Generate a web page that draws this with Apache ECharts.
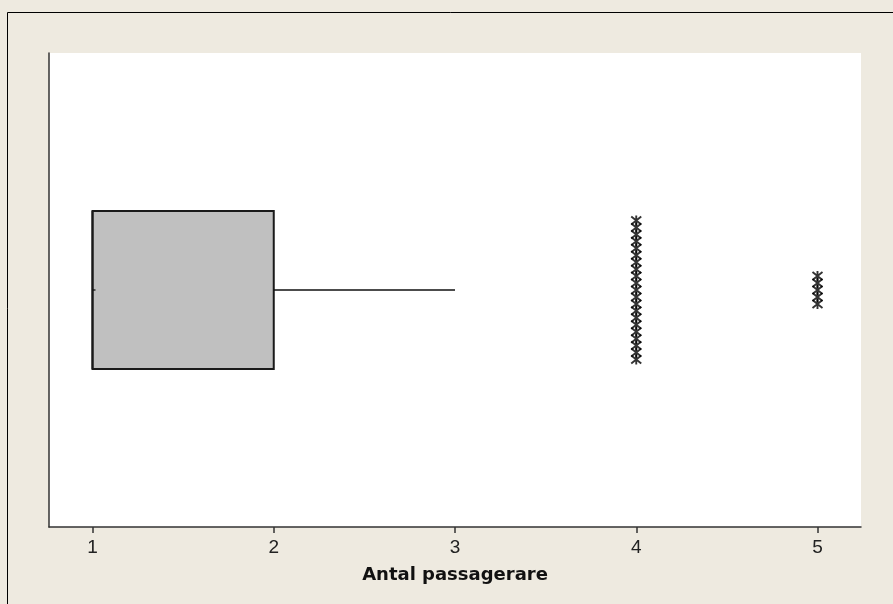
<!DOCTYPE html>
<html>
<head>
<meta charset="utf-8">
<script src="https://cdn.jsdelivr.net/npm/echarts@6/dist/echarts.min.js"></script>
<style>
  html, body { margin: 0; padding: 0; background: #EEEAE0; }
  #chart { width: 893px; height: 604px; }
</style>
</head>
<body>
<div id="chart"></div>
<script>
// Five-number summary of passenger counts: min, Q1, median, Q3, upper whisker
const boxStats = [1, 1, 1, 2, 3];
// Outlying values and how many observations fall on each
const outlierValues = [4, 5];
const outlierCounts = [21, 5];
const xTicks = [1, 2, 3, 4, 5];
const axisTitle = 'Antal passagerare';

// Identical outliers are stacked vertically around the box centre line
const stackStep = 0.088;
const outlierPoints = [];
outlierValues.forEach(function (v, i) {
  const n = outlierCounts[i];
  for (let k = 0; k < n; k++) {
    outlierPoints.push([v, (k - (n - 1) / 2) * stackStep]);
  }
});

const chart = echarts.init(document.getElementById('chart'), null, { renderer: 'canvas' });

// six-armed asterisk: an X crossed by a vertical stroke
const asterisk = 'path://M0,1L10,9M10,1L0,9M5,0L5,10';

chart.setOption({
  backgroundColor: '#EEEAE0',
  animation: false,
  graphic: [{
    type: 'rect',
    shape: { x: 7.5, y: 12.5, width: 1000, height: 1000 },
    style: { fill: 'none', stroke: '#000', lineWidth: 1 },
    silent: true, z: 0
  }, {
    type: 'rect',
    shape: { x: 49, y: 53, width: 812, height: 474 },
    style: { fill: '#FFFFFF' },
    silent: true, z: 0
  }],
  grid: { left: 49, top: 53, right: 32, bottom: 77, containLabel: false },
  xAxis: {
    type: 'value',
    min: 0.76,
    max: 5.24,
    interval: 1,
    axisLine: { show: true, onZero: false, lineStyle: { color: '#333', width: 1.5 } },
    axisTick: { show: true, length: 6, lineStyle: { color: '#333', width: 1.5 },
      customValues: xTicks },
    axisLabel: { color: '#222', fontSize: 19, fontFamily: 'Liberation Sans, Arial, sans-serif',
      margin: 11, customValues: xTicks, formatter: function (v) { return String(v); } },
    splitLine: { show: false },
    name: axisTitle,
    nameLocation: 'middle',
    nameGap: 39,
    nameTextStyle: { color: '#111', fontSize: 18, fontWeight: 'bold',
      fontFamily: 'DejaVu Sans, Verdana, sans-serif' }
  },
  yAxis: {
    type: 'value',
    min: -3,
    max: 3,
    axisLine: { show: true, onZero: false, lineStyle: { color: '#333', width: 1.5 } },
    axisTick: { show: false },
    axisLabel: { show: false },
    splitLine: { show: false }
  },
  series: [{
    type: 'custom',
    data: [boxStats],
    encode: { x: [0, 1, 2, 3, 4] },
    renderItem: function (params, api) {
      const mn = api.value(0), q1 = api.value(1), md = api.value(2), q3 = api.value(3), mx = api.value(4);
      const tl = api.coord([q1, 1]);
      const br = api.coord([q3, -1]);
      const c0 = api.coord([mn, 0]);
      const cq1 = api.coord([q1, 0]);
      const cq3 = api.coord([q3, 0]);
      const cmx = api.coord([mx, 0]);
      const mTop = api.coord([md, 1]);
      const mBot = api.coord([md, -1]);
      return {
        type: 'group',
        children: [{
          type: 'rect',
          shape: { x: tl[0], y: tl[1], width: br[0] - tl[0], height: br[1] - tl[1] },
          style: { fill: '#C0C0C0', stroke: '#1a1a1a', lineWidth: 2 }
        }, {
          type: 'line',
          shape: { x1: mTop[0], y1: mTop[1], x2: mBot[0], y2: mBot[1] },
          style: { stroke: '#1a1a1a', lineWidth: 2 }
        }, {
          type: 'line',
          shape: { x1: cq3[0], y1: cq3[1], x2: cmx[0], y2: cmx[1] },
          style: { stroke: '#111', lineWidth: 1.3 }
        }, {
          type: 'line',
          shape: { x1: c0[0], y1: c0[1], x2: cq1[0] + 3, y2: cq1[1] },
          style: { stroke: '#111', lineWidth: 1.3 }
        }]
      };
    },
    z: 3
  }, {
    type: 'scatter',
    data: outlierPoints,
    symbol: asterisk,
    symbolSize: 10,
    symbolKeepAspect: false,
    itemStyle: { color: 'none', borderColor: '#000', borderWidth: 1.9 },
    z: 4
  }]
});
</script>
</body>
</html>
